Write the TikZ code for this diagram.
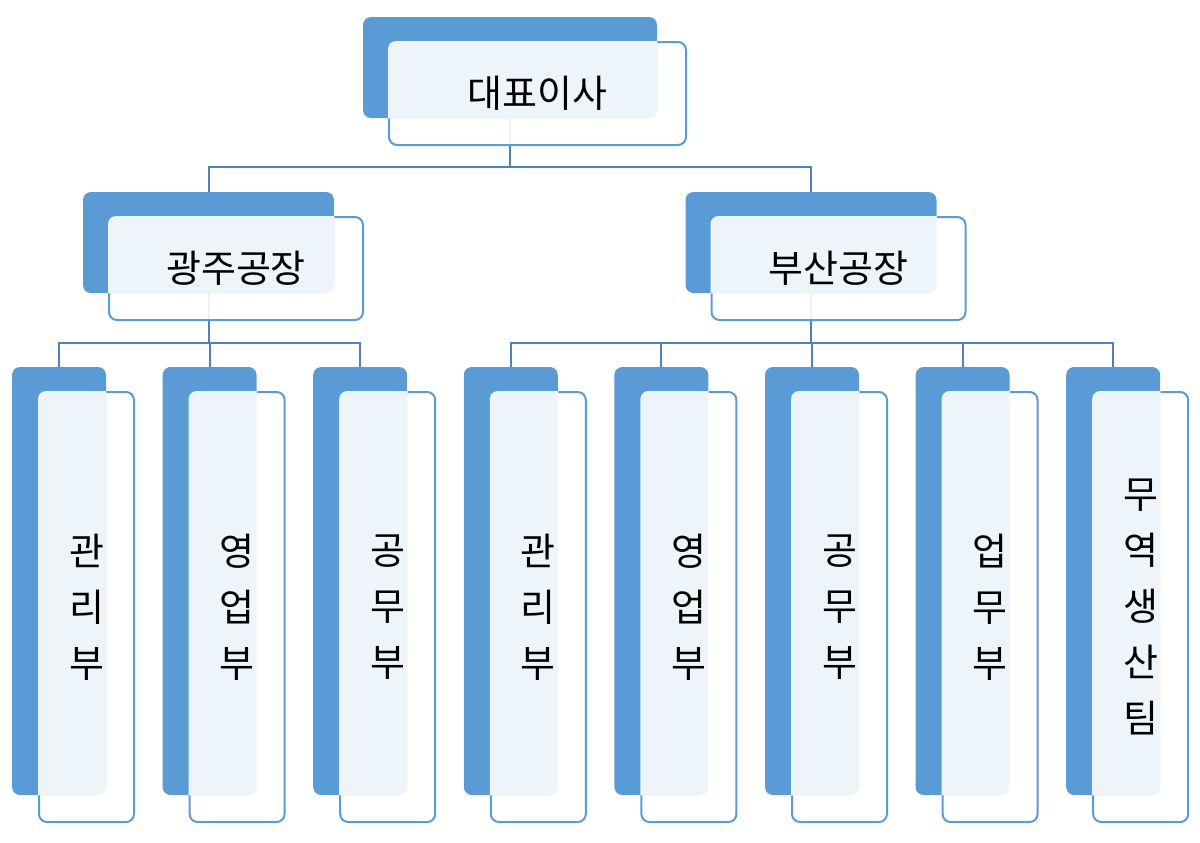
\documentclass[tikz,border=0pt]{standalone}
\usepackage{fontspec}
\newfontfamily\kr{Noto Sans CJK KR}
\usetikzlibrary{positioning, backgrounds}

\definecolor{boxblue}{HTML}{5B9BD5}
\definecolor{lineblue}{HTML}{5B9BD5}
\definecolor{linkblue}{HTML}{4F81BD}

\tikzset{
  backbox/.style={fill=boxblue, rounded corners=4pt, inner sep=0pt},
  frontbox/.style={draw=lineblue, line width=1pt, fill=white, fill opacity=0.9, draw opacity=1, rounded corners=4pt, inner sep=0pt},
  topback/.style={minimum width=147pt, minimum height=50.5pt},
  topfront/.style={minimum width=148.5pt, minimum height=51.5pt},
  midback/.style={minimum width=125.5pt, minimum height=50.5pt},
  midfront/.style={minimum width=127pt, minimum height=51.5pt},
  colback/.style={minimum width=47pt, minimum height=214pt},
  colfront/.style={minimum width=47.5pt, minimum height=215pt},
  boxtext/.style={font=\kr\fontsize{19}{28}\selectfont, align=center, inner sep=0pt},
  link/.style={draw=linkblue, line width=1pt}
}

% light part where the front box lies over the blue one
\newcommand{\boxoverlap}[2]{%
  \begin{scope}
    \clip[rounded corners=4pt] (#1.south west) rectangle (#1.north east);
    \fill[white, opacity=0.9, rounded corners=4pt] (#2.south west) rectangle (#2.north east);
  \end{scope}}

\begin{document}
\begin{tikzpicture}[x=0.5pt, y=-0.5pt]

    \useasboundingbox (0,0) rectangle (1200,842);

    % top
    \node[frontbox, topfront] (ceof) at (537.5, 93.5) {};
    \node[backbox, topback] (ceo) at (510, 67.5) {};
    \boxoverlap{ceo}{ceof}
    \node[boxtext] (ceot) at (ceof.center) {대표이사};

    % factories
    \node[frontbox, midfront] (gjf) at (236, 268.5) {};
    \node[backbox, midback] (gj) at (208.5, 242.5) {};
    \boxoverlap{gj}{gjf}
    \node[boxtext] (gjt) at (gjf.center) {광주공장};

    \node[frontbox, midfront] (bsf) at (838.5, 268.5) {};
    \node[backbox, midback] (bs) at (811, 242.5) {};
    \boxoverlap{bs}{bsf}
    \node[boxtext] (bst) at (bsf.center) {부산공장};

    % departments
    \foreach \name/\txt [count=\i from 0] in {gjadm/{관\\리\\부}, gjsales/{영\\업\\부}, gjeng/{공\\무\\부},
        bsadm/{관\\리\\부}, bssales/{영\\업\\부}, bseng/{공\\무\\부}, bsbiz/{업\\무\\부}, bstrade/{무\\역\\생\\산\\팀}} {
        \pgfmathsetmacro\cx{59+150.6*\i}
        \node[frontbox, colfront] (\name f) at (\cx+27.5, 607) {};
        \node[backbox, colback] (\name) at (\cx, 581) {};
        \boxoverlap{\name}{\name f}
        \node[boxtext] (\name t) at (\name f.center) {\txt};
    }

    \begin{scope}[on background layer]
        \draw[link] (ceo.south) -- ++(0,49) -| (gj.north);
        \draw[link] (ceo.south) -- ++(0,49) -| (bs.north);
        \foreach \dept in {gjadm, gjsales, gjeng}
            \draw[link] (gj.south) -- ++(0,50) -| (\dept.north);
        \foreach \dept in {bsadm, bssales, bseng, bsbiz, bstrade}
            \draw[link] (bs.south) -- ++(0,50) -| (\dept.north);
    \end{scope}

\end{tikzpicture}
\end{document}
